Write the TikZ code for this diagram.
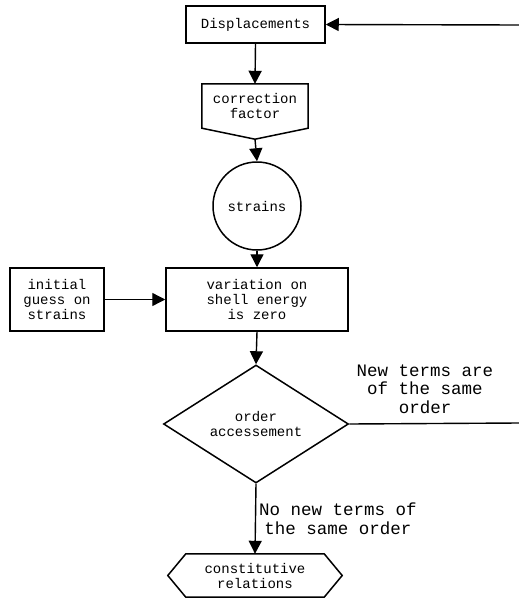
\documentclass[tikz,border=0pt]{standalone}
\usepackage{fontspec}
\setmonofont{Liberation Mono}
\usetikzlibrary{shapes.geometric,arrows.meta,calc}
\begin{document}
\begin{tikzpicture}[x=1pt,y=1pt,
  every node/.style={font=\ttfamily\fontsize{14}{15}\selectfont, align=center, inner sep=0pt},
  box/.style={draw, line width=1.5pt, rectangle},
  conn/.style={line width=1.4pt},
  arr/.style={conn, -{Triangle[length=13pt,width=13pt]}},
  elabel/.style={font=\ttfamily\fontsize{17.5}{18.5}\selectfont}]
\useasboundingbox (0,0) rectangle (519,-605);
% nodes
\node[box, minimum width=139, minimum height=37] (disp) at (255.5,-24.5) {Displacements};
\node[minimum width=106, minimum height=44] (cf) at (255,-106) {correction\\factor};
\draw[line width=1.5pt] (cf.south west) -- (cf.north west) -- (cf.north east) -- (cf.south east) -- ($(cf.south)+(0,-11)$) -- cycle;
\coordinate (cfb) at ($(cf.south)+(0,-11)$);
\node[draw, circle, line width=1.5pt, minimum size=88] (str) at (257,-206) {strains};
\node[box, minimum width=182, minimum height=63] (var) at (257,-299.5) {variation on\\shell energy\\is zero};
\node[box, minimum width=94, minimum height=63] (ini) at (57,-299.5) {initial\\guess on\\strains};
\node[draw, diamond, line width=1.5pt, minimum width=185, minimum height=118] (ord) at (256,-424) {order\\accessement};
\node[minimum width=138, minimum height=43] (con) at (255,-575.5) {constitutive\\relations};
\draw[line width=1.5pt] (con.north west) -- (con.north east) -- ($(con.east)+(18,0)$) -- (con.south east) -- (con.south west) -- ($(con.west)+(-18,0)$) -- cycle;
\coordinate (rtop) at (519,-25);
\coordinate (rmid) at (519,-423);
% connectors
\draw[arr] (rtop) -- (disp.east);
\draw[arr] (disp.south) -- (cf.north);
\draw[arr] (cfb) -- (str.north);
\draw[arr] (str.south) -- (var.north);
\draw[arr] (ini.east) -- (var.west);
\draw[arr] (var.south) -- (ord.north);
\draw[conn] (ord.east) -- (rmid);
\draw[arr] (ord.south) -- (con.north);
% labels
\node[elabel] (lab1) at (425,-389) {New terms are\\of the same\\order};
\node[elabel] (lab2) at (338,-519) {No new terms of\\the same order};
\end{tikzpicture}
\end{document}
